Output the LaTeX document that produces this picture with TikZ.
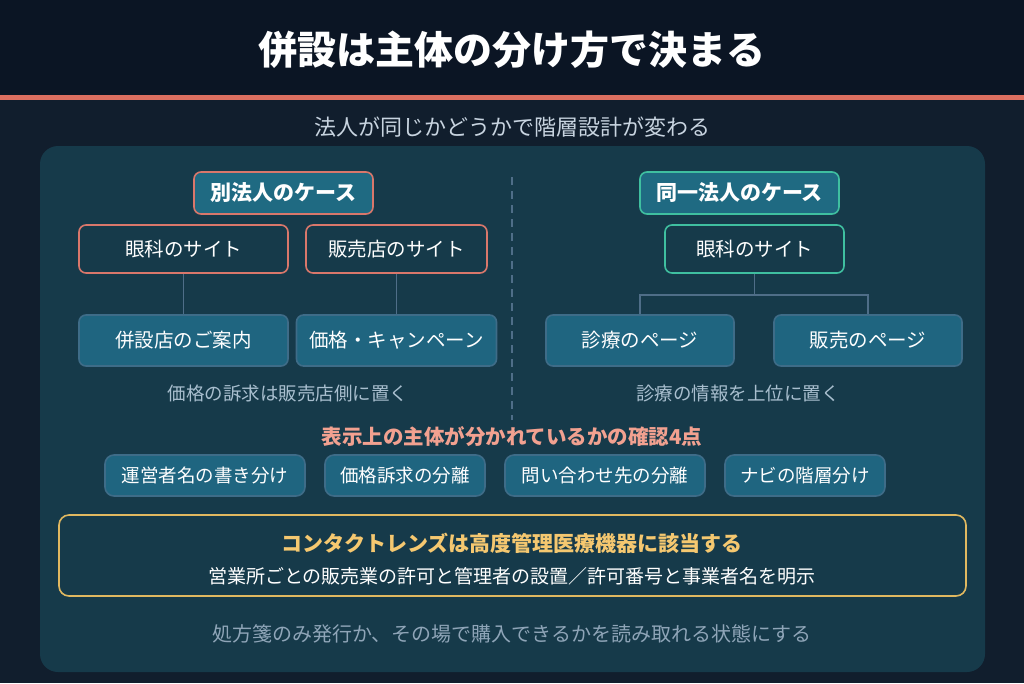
\documentclass[tikz,border=0pt]{standalone}
\usepackage{fontspec}
\setmainfont{Noto Sans CJK JP}
\usepackage{xcolor}
\usepackage{tikz}
\usetikzlibrary{positioning,calc}

\definecolor{bgtop}{HTML}{0B1524}
\definecolor{bglow}{HTML}{111E2D}
\definecolor{redline}{HTML}{DD6F60}
\definecolor{panel}{HTML}{163A4A}
\definecolor{headfill}{HTML}{1F6A82}
\definecolor{pagefill}{HTML}{1F6580}
\definecolor{pageline}{HTML}{3E6C88}
\definecolor{salmon}{HTML}{D9776B}
\definecolor{mint}{HTML}{3FBFA0}
\definecolor{wire}{HTML}{4F6E88}
\definecolor{notecol}{HTML}{A9BFCF}
\definecolor{subcol}{HTML}{C8D4E0}
\definecolor{pinkhead}{HTML}{F2A190}
\definecolor{gold}{HTML}{E0B860}
\definecolor{goldtext}{HTML}{F5C870}
\definecolor{footcol}{HTML}{8FA5B8}

\begin{document}
\begin{tikzpicture}[x=1pt, y=-1pt,
		box/.style={draw, rounded corners=7pt, line width=1.6pt, text=white, inner sep=0pt,
			minimum height=48pt, font=\fontsize{19.5}{22}\selectfont},
		head/.style={box, fill=headfill, minimum height=42pt, font=\bfseries\fontsize{21}{24}\selectfont},
		site/.style={box, fill=panel},
		page/.style={box, fill=pagefill, draw=pageline, minimum height=51pt},
		check/.style={page, minimum height=41pt, rounded corners=9pt, font=\fontsize{18.5}{21}\selectfont},
		note/.style={text=notecol, font=\fontsize{18.5}{21}\selectfont},
		wiring/.style={draw=wire, line width=1.6pt}]
		\useasboundingbox (0,0) rectangle (1024,683);
		% background and title band
		\fill[bglow] (0,0) rectangle (1024,683);
		\fill[bgtop] (0,0) rectangle (1024,95);
		\fill[redline] (0,95) rectangle (1024,100);
		\node[text=white, font=\bfseries\fontsize{39}{44}\selectfont] (title) at (512,50) {併設は主体の分け方で決まる};
		\node[text=subcol, font=\fontsize{22}{25}\selectfont] (subtitle) at (512,127) {法人が同じかどうかで階層設計が変わる};
		\fill[panel, rounded corners=18pt] (40,146) rectangle (985,672);
		\draw[wire, line width=1.6pt, dash pattern=on 8pt off 6pt] (512,177) -- (512,420);
		
		% separate corporations
		\node[head, draw=salmon, minimum width=179pt] (caseL) at (283.5,193) {別法人のケース};
		\node[site, draw=salmon, minimum width=209pt] (eyeL) at (183.5,249) {眼科のサイト};
		\node[site, draw=salmon, minimum width=181pt] (shopL) at (396.5,249) {販売店のサイト};
		\node[page, minimum width=209pt] (guide) at (183.5,340.5) {併設店のご案内};
		\node[page, minimum width=200pt] (price) at (396.5,340.5) {価格・キャンペーン};
		\draw[wiring] (eyeL) -- (guide);
		\draw[wiring] (shopL) -- (price);
		\node[note] (noteL) at (288,393) {価格の訴求は販売店側に置く};
		
		% same corporation
		\node[head, draw=mint, minimum width=199pt] (caseR) at (739.5,193) {同一法人のケース};
		\node[site, draw=mint, minimum width=179pt] (eyeR) at (754.5,249) {眼科のサイト};
		\node[page, minimum width=188pt] (clinic) at (640,340.5) {診療のページ};
		\node[page, minimum width=188pt] (sales) at (868,340.5) {販売のページ};
		\coordinate (fork) at ($(eyeR.south)+(0,21)$);
		\draw[wiring] (eyeR.south) -- (fork) -| (clinic.north);
		\draw[wiring] (fork) -| (sales.north);
		\node[note] (noteR) at (738,393) {診療の情報を上位に置く};
		
		% four checks
		\node[text=pinkhead, font=\bfseries\fontsize{20.5}{23}\selectfont] (checks) at (512,437) {表示上の主体が分かれているかの確認4点};
		\node[check, minimum width=200pt] (c1) at (205,475.5) {運営者名の書き分け};
		\node[check, minimum width=160pt, right=18.4pt of c1] (c2) {価格訴求の分離};
		\node[check, minimum width=200pt, right=18.4pt of c2] (c3) {問い合わせ先の分離};
		\node[check, minimum width=160pt, right=18.4pt of c3] (c4) {ナビの階層分け};
		
		% law box
		\node[draw=gold, line width=1.6pt, rounded corners=10pt, minimum width=907pt, minimum height=81pt] (law) at (512.5,555.5) {};
		\node[text=goldtext, font=\bfseries\fontsize{21}{24}\selectfont] (lawhead) at (512,543) {コンタクトレンズは高度管理医療機器に該当する};
		\node[text=white, font=\fontsize{19}{22}\selectfont] (lawtext) at (512,576) {営業所ごとの販売業の許可と管理者の設置／許可番号と事業者名を明示};
		\node[text=footcol, font=\fontsize{20}{23}\selectfont] (foot) at (512,634) {処方箋のみ発行か、その場で購入できるかを読み取れる状態にする};
	\end{tikzpicture}
\end{document}
